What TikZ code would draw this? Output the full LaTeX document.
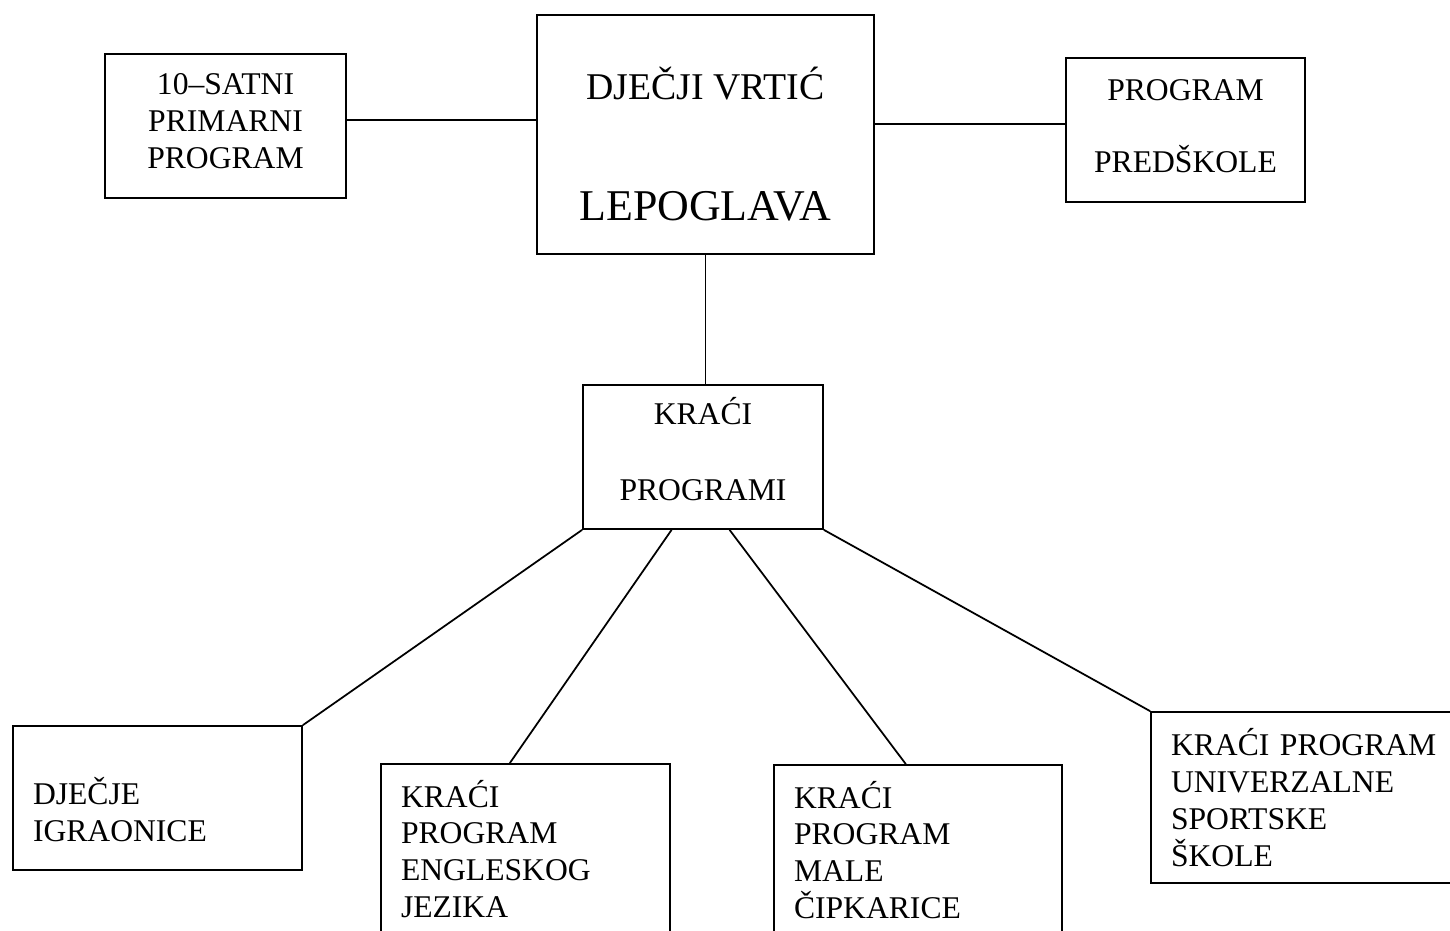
\documentclass[tikz,border=0pt]{standalone}
\usepackage{fontspec}
\setmainfont{Liberation Serif}
\usetikzlibrary{calc}
\newcommand{\dubina}[1]{\rule[-#1]{0pt}{#1}}
\newcommand{\visina}[1]{\rule{0pt}{#1}}
\begin{document}
\begin{tikzpicture}[x=0.02cm,y=-0.02cm,
   kutija/.style={draw, line width=1pt, inner sep=0pt, align=center,
                  font=\fontsize{18}{21}\selectfont},
   lijevo/.style={kutija, align=left, inner xsep=0.4cm},
   veza/.style={line width=1pt}]
\useasboundingbox (0,0) rectangle (1450,930);

\node[kutija, minimum width=337*0.02cm, minimum height=239*0.02cm] (vrtic) at (705.5,134.5)
   {\visina{29pt}{\fontsize{21.5}{21}\selectfont DJEČJI VRTIĆ}\\[48pt]{\fontsize{25}{24}\selectfont LEPOGLAVA}};
\node[kutija, minimum width=241*0.02cm, minimum height=144*0.02cm] (satni) at (225.5,126)
   {10–SATNI\\PRIMARNI\\PROGRAM\dubina{5.7pt}};
\node[kutija, minimum width=239*0.02cm, minimum height=144*0.02cm] (predskola) at (1185.5,130)
   {PROGRAM\\[20.4pt]PREDŠKOLE\dubina{4.5pt}};
\node[kutija, minimum width=240*0.02cm, minimum height=144*0.02cm] (kraci) at (703,457)
   {KRAĆI\\[22pt]PROGRAMI\dubina{9pt}};

\node[lijevo, text width=249*0.02cm, minimum width=289*0.02cm, minimum height=144*0.02cm] (igraonice) at (157.5,798)
   {\visina{28.6pt}DJEČJE\\IGRAONICE};
\node[lijevo, text width=249*0.02cm, minimum width=289*0.02cm, minimum height=170*0.02cm] (engleski) at (525.5,849)
   {KRAĆI\\PROGRAM\\ENGLESKOG\\JEZIKA};
\node[lijevo, text width=248*0.02cm, minimum width=288*0.02cm, minimum height=170*0.02cm] (cipkarice) at (918,850)
   {KRAĆI\\PROGRAM\\MALE\\ČIPKARICE};
\node[lijevo, text width=269*0.02cm, minimum width=309*0.02cm, minimum height=171*0.02cm] (sport) at (1305.5,797.5)
   {KRAĆI PROGRAM\\UNIVERZALNE\\SPORTSKE\\ŠKOLE};

\draw[veza] (satni.3) -- (satni.3 -| vrtic.west);
\draw[veza] (predskola.177 -| vrtic.east) -- (predskola.177);
\draw[veza] (vrtic.south) -- (vrtic.south |- kraci.north);
\draw[veza] (kraci.south west) -- (igraonice.north east);
\draw[veza] ($(kraci.south west)!0.37!(kraci.south east)$) -- ($(engleski.north west)!0.446!(engleski.north east)$);
\draw[veza] ($(kraci.south west)!0.61!(kraci.south east)$) -- ($(cipkarice.north west)!0.458!(cipkarice.north east)$);
\draw[veza] (kraci.south east) -- (sport.north west);
\end{tikzpicture}
\end{document}
